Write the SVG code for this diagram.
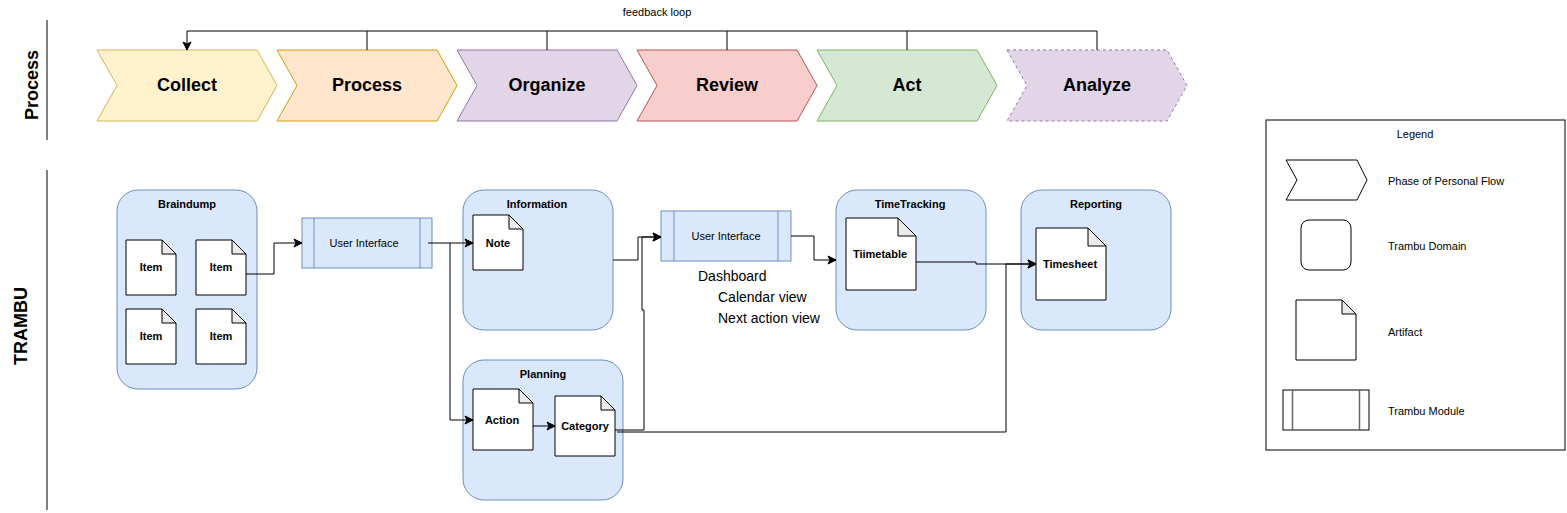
<svg xmlns="http://www.w3.org/2000/svg" width="1567" height="513" viewBox="0 0 1567 513">
<style>
text{font-family:"Liberation Sans",Arial,sans-serif;fill:#000}
.ph{font-size:18px;font-weight:bold;text-anchor:middle;dominant-baseline:central}
.lane{font-size:18px;font-weight:bold;text-anchor:middle;dominant-baseline:central}
.t{font-size:11px;font-weight:bold;text-anchor:middle;dominant-baseline:central}
.r{font-size:11px;text-anchor:middle;dominant-baseline:central}
.lg{font-size:11px;dominant-baseline:central}
.dash{font-size:14px;dominant-baseline:central}
.dom{fill:#dae8fc;stroke:#6c8ebf;stroke-width:1}
.mod{fill:#dae8fc;stroke:#6c8ebf;stroke-width:1}
.doc{fill:#fff;stroke:#000;stroke-width:1}
.fold{fill:#ebebeb;stroke:#000;stroke-width:1}
.c{fill:none;stroke:#000;stroke-width:1}
.ln{stroke:#000;stroke-width:1}
</style>
<defs>
<marker id="ar" markerWidth="10" markerHeight="10" refX="9" refY="5" orient="auto" markerUnits="userSpaceOnUse">
<path d="M1,1 L9,5 L1,9 L3,5 Z" fill="#000" stroke="#000" stroke-width="1"/>
</marker>
</defs>

<g id="lanes">
<line class="ln" x1="47" y1="20" x2="47" y2="140"/>
<text class="lane" transform="translate(32,85) rotate(-90)">Process</text>
<line class="ln" x1="47" y1="170" x2="47" y2="510"/>
<text class="lane" transform="translate(21,326) rotate(-90)">TRAMBU</text>
</g>

<g id="phase-collect">
<polygon points="97,50 257,50 277,85.5 257,121 97,121 117,85.5" fill="#fff2cc" stroke="#d6b656"/>
<text class="ph" x="187" y="85">Collect</text>
</g>
<g id="phase-process">
<polygon points="277,50 437,50 457,85.5 437,121 277,121 297,85.5" fill="#ffe6cc" stroke="#d79b00"/>
<text class="ph" x="367" y="85">Process</text>
</g>
<g id="phase-organize">
<polygon points="457,50 617,50 637,85.5 617,121 457,121 477,85.5" fill="#e1d5e7" stroke="#9673a6"/>
<text class="ph" x="547" y="85">Organize</text>
</g>
<g id="phase-review">
<polygon points="637,50 797,50 817,85.5 797,121 637,121 657,85.5" fill="#f8cecc" stroke="#b85450"/>
<text class="ph" x="727" y="85">Review</text>
</g>
<g id="phase-act">
<polygon points="817,50 977,50 997,85.5 977,121 817,121 837,85.5" fill="#d5e8d4" stroke="#82b366"/>
<text class="ph" x="907" y="85">Act</text>
</g>
<g id="phase-analyze">
<polygon points="1007,50 1167,50 1187,85.5 1167,121 1007,121 1027,85.5" fill="#e1d5e7" stroke="#9673a6" stroke-dasharray="3,3"/>
<text class="ph" x="1097" y="85">Analyze</text>
</g>

<g id="braindump">
<rect class="dom" x="117" y="190" width="140" height="199" rx="21"/>
<text class="t" x="187" y="204">Braindump</text>
</g>
<g id="item1">
<path class="doc" d="M126,240 H162 L176,254 V295 H126 Z"/><path class="fold" d="M162,240 V254 H176 Z"/>
<text class="t" x="151" y="267">Item</text>
</g>
<g id="item2">
<path class="doc" d="M196,240 H232 L246,254 V295 H196 Z"/><path class="fold" d="M232,240 V254 H246 Z"/>
<text class="t" x="221" y="267">Item</text>
</g>
<g id="item3">
<path class="doc" d="M126,309 H162 L176,323 V364 H126 Z"/><path class="fold" d="M162,309 V323 H176 Z"/>
<text class="t" x="151" y="336">Item</text>
</g>
<g id="item4">
<path class="doc" d="M196,309 H232 L246,323 V364 H196 Z"/><path class="fold" d="M232,309 V323 H246 Z"/>
<text class="t" x="221" y="336">Item</text>
</g>

<g id="ui1">
<rect class="mod" x="302" y="218" width="130" height="50"/>
<line x1="314" y1="218" x2="314" y2="268" stroke="#6c8ebf"/>
<line x1="420" y1="218" x2="420" y2="268" stroke="#6c8ebf"/>
<text class="r" x="364" y="243">User Interface</text>
</g>

<g id="information">
<rect class="dom" x="463" y="190" width="150" height="140" rx="21"/>
<text class="t" x="537" y="204">Information</text>
</g>
<g id="note">
<path class="doc" d="M473,215 H509 L523,229 V270 H473 Z"/><path class="fold" d="M509,215 V229 H523 Z"/>
<text class="t" x="498" y="243">Note</text>
</g>

<g id="planning">
<rect class="dom" x="463" y="360" width="160" height="140" rx="21"/>
<text class="t" x="543" y="374">Planning</text>
</g>
<g id="action">
<path class="doc" d="M473,389 H519 L533,403 V450 H473 Z"/><path class="fold" d="M519,389 V403 H533 Z"/>
<text class="t" x="502" y="420">Action</text>
</g>
<g id="category">
<path class="doc" d="M555,396 H601 L615,410 V456 H555 Z"/><path class="fold" d="M601,396 V410 H615 Z"/>
<text class="t" x="585" y="426">Category</text>
</g>

<g id="ui2">
<rect class="mod" x="661" y="211" width="130" height="50"/>
<line x1="674" y1="211" x2="674" y2="261" stroke="#6c8ebf"/>
<line x1="778" y1="211" x2="778" y2="261" stroke="#6c8ebf"/>
<text class="r" x="726" y="236">User Interface</text>
</g>
<g id="ui2-notes">
<text class="dash" x="698" y="276">Dashboard</text>
<text class="dash" x="718" y="297">Calendar view</text>
<text class="dash" x="718" y="318">Next action view</text>
</g>

<g id="timetracking">
<rect class="dom" x="836" y="190" width="150" height="140" rx="21"/>
<text class="t" x="910" y="204">TimeTracking</text>
</g>
<g id="timetable">
<path class="doc" d="M846,218 H898 L916,236 V290 H846 Z"/><path class="fold" d="M898,218 V236 H916 Z"/>
<text class="t" x="880" y="254">Tiimetable</text>
</g>

<g id="reporting">
<rect class="dom" x="1021" y="190" width="150" height="140" rx="21"/>
<text class="t" x="1096" y="204">Reporting</text>
</g>
<g id="timesheet">
<path class="doc" d="M1036,228 H1088 L1106,246 V300 H1036 Z"/><path class="fold" d="M1088,228 V246 H1106 Z"/>
<text class="t" x="1070" y="264">Timesheet</text>
</g>

<g id="legend">
<rect x="1266" y="120" width="299" height="330" fill="#fff" stroke="#000"/>
<text class="r" x="1415" y="134">Legend</text>
<polygon points="1286,160 1357,160 1367,180 1357,200 1286,200 1297,180" fill="#fff" stroke="#000"/>
<text class="lg" x="1388" y="181">Phase of Personal Flow</text>
<rect x="1301" y="220" width="50" height="50" rx="8" fill="#fff" stroke="#000"/>
<text class="lg" x="1388" y="246">Trambu Domain</text>
<path class="doc" d="M1296,300 H1342 L1356,314 V360 H1296 Z"/><path class="fold" d="M1342,300 V314 H1356 Z"/>
<text class="lg" x="1388" y="332">Artifact</text>
<rect x="1283" y="390" width="86" height="40" fill="#fff" stroke="#000"/>
<line x1="1292.5" y1="390" x2="1292.5" y2="430" stroke="#666" stroke-width="1.5"/>
<line x1="1359.5" y1="390" x2="1359.5" y2="430" stroke="#666" stroke-width="1.5"/>
<text class="lg" x="1388" y="411">Trambu Module</text>
</g>

<g id="connectors">
<text class="r" x="657" y="12">feedback loop</text>
<path class="c" d="M1097,50 V31 H187 V50" marker-end="url(#ar)"/>
<path class="c" d="M367,50 V31 M547,50 V31 M727,50 V31 M907,50 V31"/>
<path class="c" d="M246,274 H274 V243 H302" marker-end="url(#ar)"/>
<path class="c" d="M428,243 H473" marker-end="url(#ar)"/>
<path class="c" d="M450,243 V420 H473" marker-end="url(#ar)"/>
<path class="c" d="M533,426 H555" marker-end="url(#ar)"/>
<path class="c" d="M613,260 H638 V237 H661" marker-end="url(#ar)"/>
<path class="c" d="M615,430 H644 V310 H642 V237 H661" marker-end="url(#ar)"/>
<path class="c" d="M617,432 H1006 V264 H1036" marker-end="url(#ar)"/>
<path class="c" d="M791,236 H814 V260 H836" marker-end="url(#ar)"/>
<path class="c" d="M916,262 H976 V264 H1036" marker-end="url(#ar)"/>
</g>
</svg>
